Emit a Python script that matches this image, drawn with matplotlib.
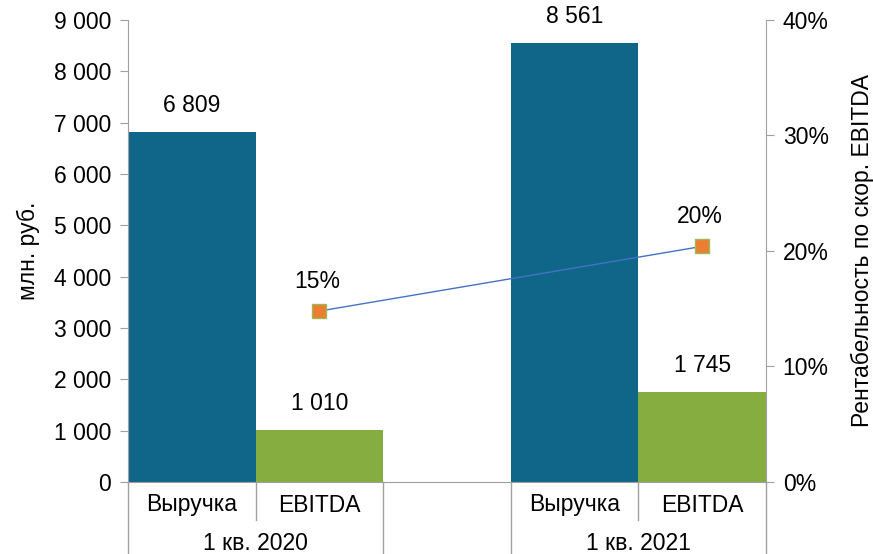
import matplotlib.pyplot as plt
from matplotlib.transforms import blended_transform_factory

plt.rcParams['font.family'] = ['Liberation Sans', 'DejaVu Sans']

# data
periods = ['1 кв. 2020', '1 кв. 2021']
metrics = ['Выручка', 'EBITDA']
revenue = [6809, 8561]
ebitda = [1010, 1745]
margin = [14.8, 20.4]          # %
margin_labels = ['15%', '20%']

teal = '#106689'
green = '#86AD3F'
grey = '#A0A0A0'
fs = 16.5

fig = plt.figure(figsize=(8.73, 5.54), dpi=100)
ax = fig.add_axes([128 / 873, 72 / 554, 638 / 873, 462 / 554])

# slot positions: revenue, ebitda, gap, revenue, ebitda
rev_x = [0, 3]
ebit_x = [1, 4]

ax.bar(rev_x, revenue, width=1.0, color=teal)
ax.bar(ebit_x, ebitda, width=1.0, color=green)

def fmt(v):
    return f'{v:,}'.replace(',', ' ')

for x, v in zip(rev_x + ebit_x, revenue + ebitda):
    ax.annotate(fmt(v), (x, v), xytext=(0, 15), textcoords='offset pixels',
                ha='center', va='bottom', fontsize=fs)

ax.set_xlim(-0.5, 4.5)
ax.set_ylim(0, 9000)
ax.set_yticks(range(0, 9001, 1000))
ax.set_yticklabels([fmt(v) for v in range(0, 9001, 1000)], fontsize=fs)
ax.set_ylabel('млн. руб.', fontsize=fs, labelpad=10)
ax.set_xticks([])
for s in ['top', 'right']:
    ax.spines[s].set_visible(False)
ax.spines['left'].set_color(grey)
ax.spines['bottom'].set_color(grey)
ax.tick_params(axis='y', color=grey, length=6, pad=6)

ax2 = ax.twinx()
ax2.set_ylim(0, 40)
ax2.set_yticks(range(0, 41, 10))
ax2.set_yticklabels([f'{v}%' for v in range(0, 41, 10)], fontsize=fs)
ax2.plot(ebit_x, margin, color='#4472C4', lw=1, marker='s', markersize=10.5,
         markerfacecolor='#ED7D31', markeredgecolor='#9BBB59', markeredgewidth=1)
for x, v, t in zip(ebit_x, margin, margin_labels):
    ax2.annotate(t, (x, v), xytext=(-2, 18), textcoords='offset pixels',
                 ha='center', va='bottom', fontsize=fs)
ax2.set_ylabel('Рентабельность по скор. EBITDA', fontsize=fs, labelpad=16)
for s in ['top', 'left', 'bottom']:
    ax2.spines[s].set_visible(False)
ax2.spines['right'].set_color(grey)
ax2.tick_params(axis='y', color=grey, length=6, pad=6)

# multi-level category axis
tr = blended_transform_factory(ax.transData, ax.transAxes)
row1_y = -23 / 462
row2_y = -61 / 462
short_end = -38 / 462
full_end = -75 / 462
for x in [-0.5, 1.5, 2.5, 4.5]:
    ax.plot([x, x], [0, full_end], transform=tr, color=grey, lw=1, clip_on=False)
for x in [0.5, 3.5]:
    ax.plot([x, x], [0, short_end], transform=tr, color=grey, lw=1, clip_on=False)
for i, p in enumerate(periods):
    for x, m in zip([rev_x[i], ebit_x[i]], metrics):
        ax.text(x, row1_y, m, transform=tr, ha='center', va='center', fontsize=fs)
    ax.text((rev_x[i] + ebit_x[i]) / 2, row2_y, p, transform=tr,
            ha='center', va='center', fontsize=fs)

fig.savefig('out.png', dpi=100)
